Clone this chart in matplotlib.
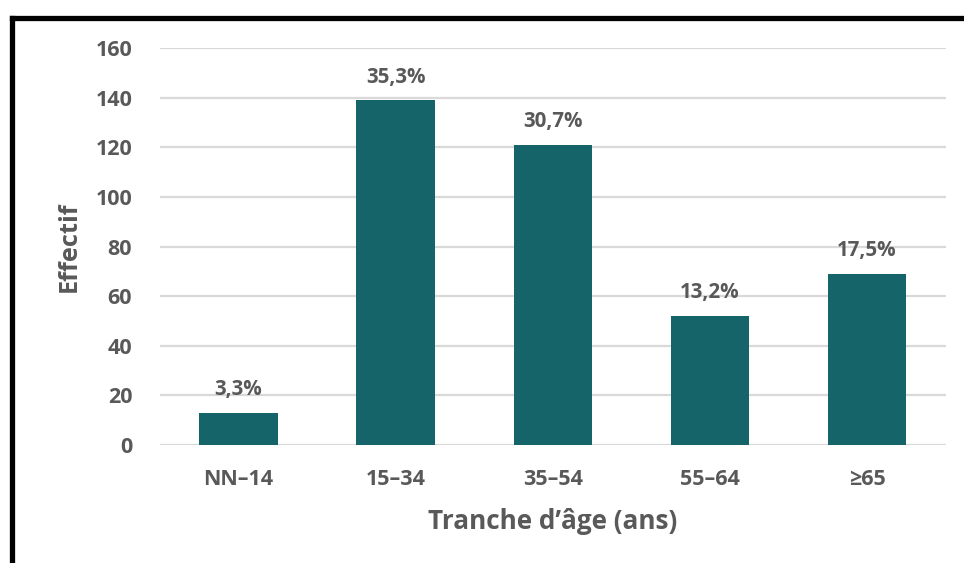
import matplotlib
matplotlib.use("Agg")
import matplotlib.pyplot as plt
from matplotlib.lines import Line2D

# Age groups and counts
categories = ["NN\u201314", "15\u201334", "35\u201354", "55\u201364", "\u226565"]
counts = [13, 139, 121, 52, 69]
y_ticks = [0, 20, 40, 60, 80, 100, 120, 140, 160]

total = sum(counts)
pct_labels = [f"{100 * c / total:.1f}%".replace(".", ",") for c in counts]

BAR = "#156469"
TXT = "#595959"
GRID = "#d9d9d9"

plt.rcParams["font.family"] = ["Open Sans", "DejaVu Sans"]

fig = plt.figure(figsize=(9.64, 5.63), dpi=100)
ax = fig.add_axes([0.166, 0.2096, 0.815, 0.7051])

x = list(range(len(categories)))
ax.bar(x, counts, width=0.5, color=BAR, zorder=3)

for xi, c, lab in zip(x, counts, pct_labels):
    ax.annotate(lab, (xi, c), xytext=(0, 9), textcoords="offset points",
                ha="center", va="bottom", fontsize=14.8, fontweight="bold",
                color=TXT)

ax.set_xlim(-0.5, len(categories) - 0.5)
ax.set_ylim(0, 160)
ax.set_yticks(y_ticks)
ax.set_xticks(x)
ax.set_xticklabels(categories)
ax.grid(axis="y", color=GRID, linewidth=1.6, zorder=0)
ax.set_axisbelow(True)
for s in ax.spines.values():
    s.set_visible(False)
ax.tick_params(axis="both", length=0, colors=TXT, labelsize=15.5)
ax.tick_params(axis="y", pad=20)
ax.tick_params(axis="x", pad=17)
for t in ax.get_xticklabels() + ax.get_yticklabels():
    t.set_fontweight("bold")

ax.set_xlabel("Tranche d\u2019\u00e2ge (ans)", fontsize=18.8, fontweight="bold",
              color=TXT, labelpad=13)
ax.set_ylabel("Effectif", fontsize=18.3, fontweight="bold", color=TXT,
              labelpad=10)

# Frame lines along the top and left edges
fig.add_artist(Line2D([11.5 / 964, 1.0], [1 - 17.5 / 563, 1 - 17.5 / 563],
                      transform=fig.transFigure, color="black", linewidth=3.8,
                      solid_capstyle="projecting"))
fig.add_artist(Line2D([11.5 / 964, 11.5 / 964], [1 - 17.5 / 563, 0.0],
                      transform=fig.transFigure, color="black", linewidth=3.8,
                      solid_capstyle="projecting"))

fig.savefig("out.png", dpi=100, facecolor="white")
